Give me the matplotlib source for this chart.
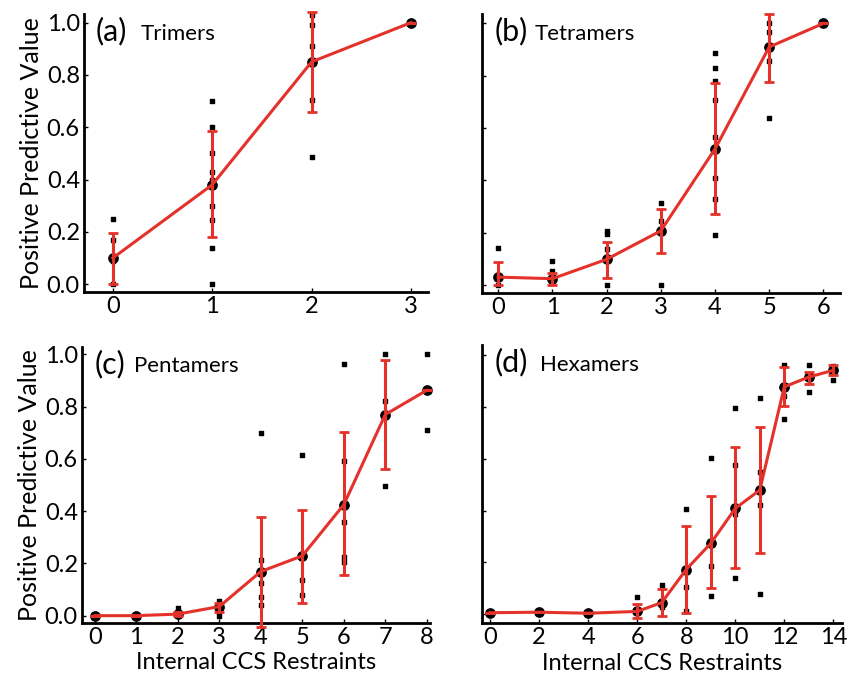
import matplotlib.pyplot as plt
import numpy as np

plt.rcParams['font.family'] = ['Lato', 'DejaVu Sans']

RED = '#e4322b'

# (a) Trimers
tri_x = [0, 1, 2, 3]
tri_mean = [0.10, 0.38, 0.85, 1.0]
tri_lo = [0.0, 0.18, 0.66, 1.0]
tri_hi = [0.195, 0.585, 1.04, 1.0]
tri_px = [0, 0, 0, 0, 0, 1, 1, 1, 1, 1, 1, 1, 1, 1, 1, 2, 2, 2, 2, 2, 2, 3]
tri_py = [0.25, 0.17, 0.105, 0.09, 0.0, 0.70, 0.60, 0.50, 0.43, 0.40, 0.38, 0.30, 0.245, 0.137, 0.0,
          1.03, 0.99, 0.91, 0.846, 0.706, 0.486, 1.0]

# (b) Tetramers
tet_x = [0, 1, 2, 3, 4, 5, 6]
tet_mean = [0.03, 0.024, 0.098, 0.207, 0.52, 0.91, 1.0]
tet_lo = [0.0, 0.0, 0.026, 0.124, 0.271, 0.776, 1.0]
tet_hi = [0.086, 0.047, 0.166, 0.29, 0.772, 1.036, 1.0]
tet_px = [0, 0, 0, 1, 1, 1, 2, 2, 2, 2, 2, 3, 3, 3, 3,
          4, 4, 4, 4, 4, 4, 4, 4, 4, 5, 5, 5, 5, 5, 6]
tet_py = [0.143, 0.028, 0.0, 0.092, 0.054, 0.02, 0.207, 0.194, 0.137, 0.098, 0.0, 0.313, 0.245, 0.207, 0.0,
          0.885, 0.83, 0.78, 0.706, 0.565, 0.52, 0.41, 0.33, 0.19, 1.0, 0.968, 0.91, 0.856, 0.638, 1.0]

# (c) Pentamers
pen_x = [0, 1, 2, 3, 4, 5, 6, 7, 8]
pen_mean = [0.0, 0.0, 0.006, 0.035, 0.169, 0.229, 0.425, 0.77, 0.863]
pen_lo = [0.0, 0.0, 0.0, 0.015, -0.042, 0.05, 0.156, 0.561, 0.863]
pen_hi = [0.0, 0.0, 0.015, 0.05, 0.377, 0.405, 0.702, 0.978, 0.863]
pen_px = [0, 1, 2, 2, 3, 3, 3, 3, 4, 4, 4, 4, 4, 4, 5, 5, 5, 5,
          6, 6, 6, 6, 6, 6, 7, 7, 7, 7, 8, 8, 8]
pen_py = [0.0, 0.0, 0.028, 0.006, 0.058, 0.04, 0.015, 0.0, 0.70, 0.213, 0.165, 0.124, 0.073, 0.04,
          0.614, 0.237, 0.137, 0.079, 0.962, 0.593, 0.43, 0.36, 0.226, 0.207,
          1.0, 0.82, 0.77, 0.495, 1.0, 0.866, 0.71]

# (d) Hexamers
hex_x = [0, 2, 4, 6, 7, 8, 9, 10, 11, 12, 13, 14]
hex_mean = [0.005, 0.007, 0.003, 0.01, 0.044, 0.172, 0.273, 0.408, 0.479, 0.878, 0.916, 0.942]
hex_lo = [0.005, 0.007, 0.003, -0.015, -0.008, 0.003, 0.099, 0.176, 0.234, 0.803, 0.89, 0.923]
hex_hi = [0.005, 0.007, 0.003, 0.04, 0.095, 0.341, 0.456, 0.644, 0.723, 0.955, 0.936, 0.964]
hex_px = [0, 2, 4, 6, 6, 7, 7, 7, 8, 8, 8, 8, 9, 9, 9, 9, 10, 10, 10, 10, 10,
          11, 11, 11, 11, 11, 12, 12, 12, 12, 13, 13, 13, 14, 14, 14]
hex_py = [0.005, 0.007, 0.003, 0.067, 0.015, 0.112, 0.048, 0.028, 0.404, 0.17, 0.103, 0.01,
          0.604, 0.273, 0.187, 0.071, 0.798, 0.575, 0.414, 0.386, 0.138,
          0.835, 0.55, 0.479, 0.421, 0.077, 0.964, 0.878, 0.842, 0.755,
          0.961, 0.916, 0.858, 0.957, 0.942, 0.903]

panels = [
    # rect, tag, name, name x, x, mean, lo, hi, px, py, xlim, ylim, xticks, ylabels, xlabel
    ([0.0992, 0.570, 0.406, 0.409], '(a)', 'Trimers', 0.165, tri_x, tri_mean, tri_lo, tri_hi, tri_px, tri_py,
     (-0.29, 3.17), (-0.03, 1.032), [0, 1, 2, 3], True, False),
    ([0.569, 0.568, 0.423, 0.411], '(b)', 'Tetramers', 0.148, tet_x, tet_mean, tet_lo, tet_hi, tet_px, tet_py,
     (-0.3, 6.31), (-0.032, 1.035), list(range(7)), False, False),
    ([0.0968, 0.0825, 0.411, 0.407], '(c)', 'Pentamers', 0.148, pen_x, pen_mean, pen_lo, pen_hi, pen_px, pen_py,
     (-0.31, 8.08), (-0.028, 1.03), list(range(9)), True, True),
    ([0.569, 0.0820, 0.425, 0.410], '(d)', 'Hexamers', 0.162, hex_x, hex_mean, hex_lo, hex_hi, hex_px, hex_py,
     (-0.33, 14.35), (-0.036, 1.04), [0, 2, 4, 6, 8, 10, 12, 14], False, True),
]

fig = plt.figure(figsize=(8.47, 6.79), dpi=100)

for rect, tag, name, nx, x, m, lo, hi, px, py, xl, yl, xt, show_y, show_x in panels:
    ax = fig.add_axes(rect)
    m = np.array(m)
    yerr = [m - np.array(lo), np.array(hi) - m]
    ax.scatter(px, py, marker='s', s=9, color='black', zorder=2, clip_on=False)
    ax.scatter(x, m, marker='o', s=45, color='black', zorder=3, clip_on=False)
    ax.errorbar(x, m, yerr=yerr, color=RED, lw=2.2, elinewidth=2.2, capsize=3.5, capthick=2,
                zorder=4, clip_on=False)
    ax.set_xlim(*xl)
    ax.set_ylim(*yl)
    ax.set_xticks(xt)
    ax.set_yticks([0, 0.2, 0.4, 0.6, 0.8, 1.0])
    if show_y:
        ax.set_yticklabels(['0.0', '0.2', '0.4', '0.6', '0.8', '1.0'])
        ax.set_ylabel('Positive Predictive Value', fontsize=18, labelpad=3)
    else:
        ax.set_yticklabels([])
    if show_x:
        ax.set_xlabel('Internal CCS Restraints', fontsize=17, labelpad=3)
    ax.tick_params(direction='in', length=3, width=1, labelsize=17, pad=3)
    for s in ['top', 'right']:
        ax.spines[s].set_visible(False)
    for s in ['left', 'bottom']:
        ax.spines[s].set_linewidth(2)
    ax.text(0.035, 0.99, tag, transform=ax.transAxes, fontsize=22, va='top', ha='left', zorder=5,
            bbox=dict(facecolor='white', edgecolor='none', pad=1))
    ax.text(nx, 0.965, name, transform=ax.transAxes, fontsize=16,
            va='top', ha='left', zorder=5)

fig.savefig('out.png', dpi=100, facecolor='white')
